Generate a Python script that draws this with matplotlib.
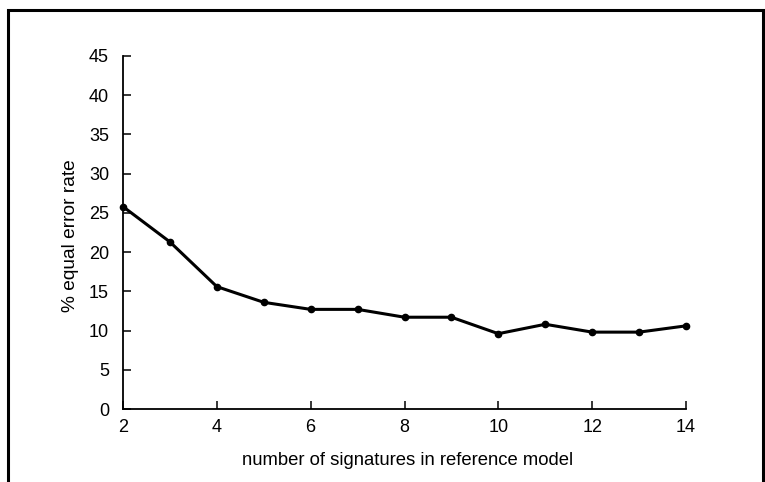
import matplotlib
matplotlib.use("Agg")
import matplotlib.pyplot as plt
import matplotlib.patches as patches

# Data
signatures = [2, 3, 4, 5, 6, 7, 8, 9, 10, 11, 12, 13, 14]
eer = [25.8, 21.3, 15.6, 13.6, 12.7, 12.7, 11.7, 11.7, 9.6, 10.8, 9.8, 9.8, 10.6]
x_ticks = [2, 4, 6, 8, 10, 12, 14]
y_ticks = [0, 5, 10, 15, 20, 25, 30, 35, 40, 45]

plt.rcParams["font.family"] = ["Liberation Sans", "DejaVu Sans"]

fig = plt.figure(figsize=(7.65, 4.82), dpi=100)
ax = fig.add_axes([123 / 765, 73 / 482, 563 / 765, 353 / 482])

ax.plot(signatures, eer, color="black", linewidth=2.2, marker="o",
        markersize=4.5, solid_joinstyle="round", clip_on=False, zorder=3)

ax.set_xlim(2, 14)
ax.set_ylim(0, 45)
ax.set_xticks(x_ticks)
ax.set_yticks(y_ticks)

for side in ["top", "right"]:
    ax.spines[side].set_visible(False)
for side in ["left", "bottom"]:
    ax.spines[side].set_linewidth(1.3)

ax.tick_params(axis="both", direction="in", length=6, width=1.1,
               labelsize=13, colors="black")
ax.tick_params(axis="x", pad=7)
ax.tick_params(axis="y", pad=10)

ax.set_xlabel("number of signatures in reference model", fontsize=13.3)
ax.set_ylabel("% equal error rate", fontsize=13.8)
ax.xaxis.set_label_coords(0.505, -0.123)
ax.yaxis.set_label_coords(-0.078, 0.49)

# frame around the scanned figure (bottom edge cut off)
frame = patches.Rectangle((8 / 765, -0.05), 755 / 765, 1.05 - 10 / 482,
                          transform=fig.transFigure, fill=False,
                          edgecolor="black", linewidth=2.2)
fig.patches.append(frame)

fig.savefig("out.png", dpi=100)
